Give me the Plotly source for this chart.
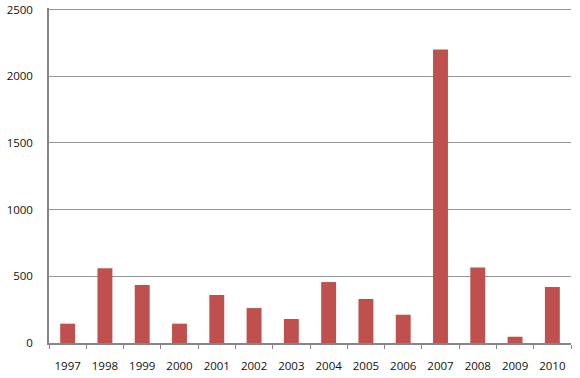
import plotly.graph_objects as go

years = ["1997", "1998", "1999", "2000", "2001", "2002", "2003",
         "2004", "2005", "2006", "2007", "2008", "2009", "2010"]
values = [145, 560, 435, 145, 360, 262, 180, 457, 330, 212, 2200, 567, 47, 420]
y_ticks = [0, 500, 1000, 1500, 2000, 2500]

fig = go.Figure(go.Bar(x=years, y=values, marker=dict(color="#C0504D", line=dict(width=0))))

fig.update_layout(
    width=580, height=378,
    margin=dict(l=49, r=9, t=8.4, b=35),
    paper_bgcolor="white", plot_bgcolor="white",
    bargap=0.6, showlegend=False,
    font=dict(family="Open Sans", size=11.5, color="#111111"),
)
fig.update_xaxes(
    type="category", showline=True, linecolor="#868686", linewidth=1.5,
    ticks="outside", tickson="boundaries", ticklen=4, tickcolor="#868686",
    ticklabelstandoff=11, showgrid=False, automargin=False,
)
fig.update_yaxes(
    range=[0, 2512], tickvals=y_ticks, showline=True, linecolor="#868686", linewidth=1.5,
    gridcolor="#959595", gridwidth=1, zeroline=False, ticks="", ticklabelstandoff=12,
    automargin=False,
)

fig.write_html("out.html", config={"displayModeBar": False},
               post_script="document.body.style.margin='0';")
